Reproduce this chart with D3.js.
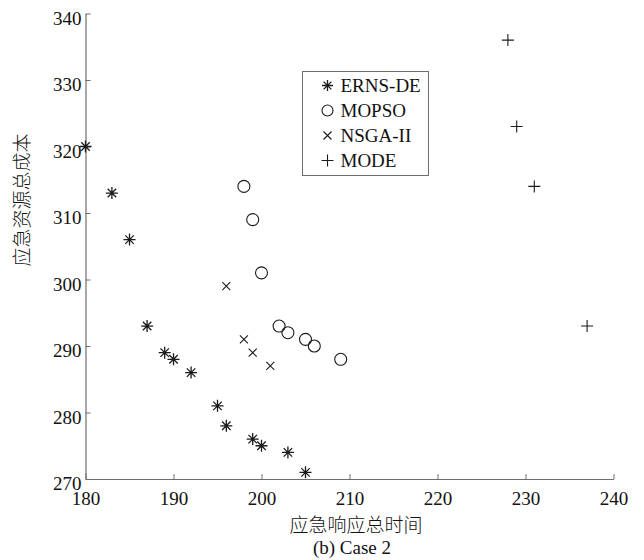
<!DOCTYPE html>
<html>
<head>
<meta charset="utf-8">
<script src="https://cdn.jsdelivr.net/npm/d3@7/dist/d3.min.js"></script>
<style>
  body { margin: 0; background: #fff; }
  svg text { font-family: "Liberation Serif", "Times New Roman", serif; fill: #111; }
  .cjk { font-family: "Noto Sans CJK SC", sans-serif; font-weight: 300; }
</style>
</head>
<body>
<div id="chart"></div>
<script>
// data
const ernsX = [180, 183, 185, 187, 189, 190, 192, 195, 196, 199, 200, 203, 205]
const ernsY = [320, 313, 306, 293, 289, 288, 286, 281, 278, 276, 275, 274, 271]
const mopsoX = [198, 199, 200, 202, 203, 205, 206, 209]
const mopsoY = [314, 309, 301, 293, 292, 291, 290, 288]
const nsgaX = [196, 198, 199, 201]
const nsgaY = [299, 291, 289, 287]
const modeX = [228, 229, 231, 237]
const modeY = [336, 323, 314, 293]
const xTicks = [180, 190, 200, 210, 220, 230, 240]
const yTicks = [270, 280, 290, 300, 310, 320, 330, 340]
const seriesNames = ["ERNS-DE", "MOPSO", "NSGA-II", "MODE"]

const WIDTH_ALL = 644, HEIGHT_ALL = 560
const MARGIN = { LEFT: 85.5, RIGHT: 30.5, TOP: 13.5, BOTTOM: 81 }
const WIDTH = WIDTH_ALL - MARGIN.LEFT - MARGIN.RIGHT
const HEIGHT = HEIGHT_ALL - MARGIN.TOP - MARGIN.BOTTOM
const axisColor = "#6e6e6e"
const markColor = "#1b1b1b"

const svg = d3.select("#chart").append("svg")
    .attr("width", WIDTH_ALL)
    .attr("height", HEIGHT_ALL)

const g = svg.append("g")
    .attr("transform", `translate(${MARGIN.LEFT}, ${MARGIN.TOP})`)

const x = d3.scaleLinear().domain([180, 240]).range([0, WIDTH])
const y = d3.scaleLinear().domain([270, 340]).range([HEIGHT, 0])

// axes (MATLAB style: ticks pointing inward, no box)
const xAxis = g.append("g")
    .attr("transform", `translate(0, ${HEIGHT})`)
    .call(d3.axisBottom(x).tickValues(xTicks).tickSizeInner(-5).tickSizeOuter(0).tickPadding(10))
const yAxis = g.append("g")
    .call(d3.axisLeft(y).tickValues(yTicks).tickSizeInner(-5).tickSizeOuter(0).tickPadding(4))

;[xAxis, yAxis].forEach(a => {
    a.select(".domain").attr("stroke", axisColor).attr("stroke-width", 1.2)
    a.selectAll(".tick line").attr("stroke", axisColor).attr("stroke-width", 1)
    a.selectAll(".tick text").attr("font-size", "19px").attr("fill", "#111")
        .attr("font-family", "'Liberation Serif', serif")
})
xAxis.selectAll(".tick text").attr("dy", "0.85em")
yAxis.selectAll(".tick text").attr("dy", "0.56em")

// marker shapes
const asterisk = s => {
    const r = s / 2, d = r * Math.SQRT1_2
    return `M${-r},0L${r},0M0,${-r}L0,${r}M${-d},${-d}L${d},${d}M${-d},${d}L${d},${-d}`
}
const cross = s => { const r = s / 2; return `M${-r},${-r}L${r},${r}M${-r},${r}L${r},${-r}` }
const plus = s => { const r = s / 2; return `M${-r},0L${r},0M0,${-r}L0,${r}` }

function drawPoints(xs, ys, cls, draw) {
    const data = xs.map((v, i) => ({ x: v, y: ys[i] }))
    const sel = g.selectAll(`.${cls}`).data(data).enter()
    draw(sel)
}

drawPoints(ernsX, ernsY, "erns", sel => sel.append("path")
    .attr("class", "erns")
    .attr("d", asterisk(12))
    .attr("transform", d => `translate(${x(d.x)}, ${y(d.y)})`)
    .attr("stroke", markColor).attr("stroke-width", 1.3).attr("fill", "none"))

drawPoints(mopsoX, mopsoY, "mopso", sel => sel.append("circle")
    .attr("class", "mopso")
    .attr("cx", d => x(d.x))
    .attr("cy", d => y(d.y))
    .attr("r", 6)
    .attr("stroke", markColor).attr("stroke-width", 1.1).attr("fill", "none"))

drawPoints(nsgaX, nsgaY, "nsga", sel => sel.append("path")
    .attr("class", "nsga")
    .attr("d", cross(8))
    .attr("transform", d => `translate(${x(d.x)}, ${y(d.y)})`)
    .attr("stroke", markColor).attr("stroke-width", 1.1).attr("fill", "none"))

drawPoints(modeX, modeY, "mode", sel => sel.append("path")
    .attr("class", "mode")
    .attr("d", plus(12))
    .attr("transform", d => `translate(${x(d.x)}, ${y(d.y)})`)
    .attr("stroke", markColor).attr("stroke-width", 1.1).attr("fill", "none"))

// legend
const legend = svg.append("g").attr("transform", "translate(302.5, 71.5)")
legend.append("rect")
    .attr("width", 126).attr("height", 104)
    .attr("fill", "#fff").attr("stroke", axisColor).attr("stroke-width", 1)

const legendMarks = [
    l => l.append("path").attr("d", asterisk(11)).attr("stroke-width", 1.3),
    l => l.append("circle").attr("r", 5.5).attr("stroke-width", 1.1),
    l => l.append("path").attr("d", cross(8)).attr("stroke-width", 1.1),
    l => l.append("path").attr("d", plus(12)).attr("stroke-width", 1.1)
]
seriesNames.forEach((name, i) => {
    const row = legend.append("g").attr("transform", `translate(0, ${14 + i * 25})`)
    const m = row.append("g").attr("transform", "translate(25, 0)")
    legendMarks[i](m)
    m.selectAll("*").attr("stroke", markColor).attr("fill", "none")
    row.append("text")
        .attr("x", 38).attr("y", 0)
        .attr("dy", "0.35em")
        .attr("font-size", "19px")
        .text(name)
})

// axis labels
svg.append("text")
    .attr("class", "cjk")
    .attr("x", 356)
    .attr("y", 532)
    .attr("text-anchor", "middle")
    .attr("font-size", "19px")
    .text("应急响应总时间")

svg.append("text")
    .attr("class", "cjk")
    .attr("transform", "translate(29, 200) rotate(-90)")
    .attr("text-anchor", "middle")
    .attr("font-size", "19px")
    .text("应急资源总成本")

svg.append("text")
    .attr("x", 352)
    .attr("y", 554)
    .attr("text-anchor", "middle")
    .attr("font-size", "19px")
    .text("(b) Case 2")
</script>
</body>
</html>
